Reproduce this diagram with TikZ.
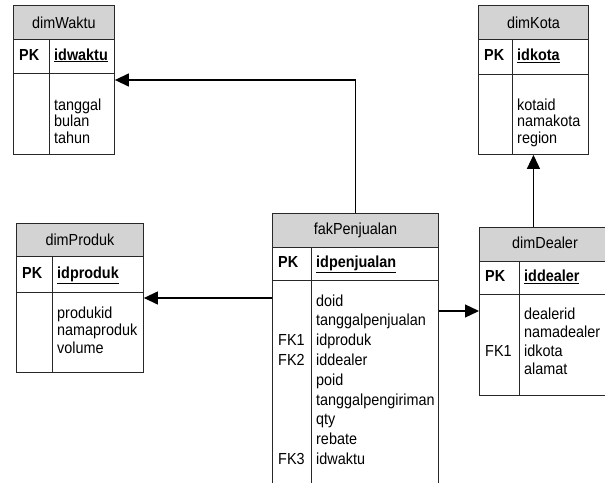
\documentclass[tikz,border=0pt]{standalone}
\usepackage{fontspec}
\setmainfont[FakeStretch=0.9]{Liberation Sans}
\usetikzlibrary{arrows.meta}
\definecolor{hdrgray}{RGB}{211,211,211}
\definecolor{bordercol}{RGB}{40,40,40}
\begin{document}
\begin{tikzpicture}[x=1pt,y=-1pt,
  font=\fontsize{16}{18}\selectfont,
  cellbox/.style={draw=bordercol, line width=0.9pt, inner sep=0pt, anchor=north west},
  hdrbox/.style={cellbox, fill=hdrgray},
  txt/.style={anchor=west, inner sep=0pt, text height=11.5pt, text depth=3.3pt},
  divline/.style={draw=bordercol, line width=0.9pt},
  arr/.style={draw=black, line width=1.3pt, -{Triangle[length=14pt,width=13pt]}}]
\useasboundingbox (0,0) rectangle (605,482);
\clip (0,0) rectangle (605,482);

% ---------- dimWaktu ----------
\node[hdrbox, minimum width=101pt, minimum height=34pt] (wh) at (13,5) {dimWaktu};
\node[cellbox, minimum width=101pt, minimum height=34pt] (wp) at (13,39) {};
\node[cellbox, minimum width=101pt, minimum height=81pt] (wb) at (13,73) {};
\draw[divline] (49,39) -- (49,154);
\node[txt] (wpk) at (19,56) {\textbf{PK}};
\node[txt] (wkey) at (54,56) {\textbf{\underline{idwaktu}}};
\foreach \t [count=\i from 0] in {tanggal,bulan,tahun}
  \node[txt] (w\i) at (54,{106+\i*16.5}) {\t};

% ---------- dimKota ----------
\node[hdrbox, minimum width=110pt, minimum height=34pt] (kh) at (478,5) {dimKota};
\node[cellbox, minimum width=110pt, minimum height=35pt] (kp) at (478,39) {};
\node[cellbox, minimum width=110pt, minimum height=80pt] (kb) at (478,74) {};
\draw[divline] (512,39) -- (512,154);
\node[txt] (kpk) at (484,56.5) {\textbf{PK}};
\node[txt] (kkey) at (517,56.5) {\textbf{\underline{idkota}}};
\foreach \t [count=\i from 0] in {kotaid,namakota,region}
  \node[txt] (k\i) at (517,{106+\i*16.5}) {\t};

% ---------- dimProduk ----------
\node[hdrbox, minimum width=127pt, minimum height=33pt] (ph) at (16,223) {dimProduk};
\node[cellbox, minimum width=127pt, minimum height=36pt] (pp) at (16,256) {};
\node[cellbox, minimum width=127pt, minimum height=80pt] (pb) at (16,292) {};
\draw[divline] (52,256) -- (52,372);
\node[txt] (ppk) at (22,274) {\textbf{PK}};
\node[txt] (pkey) at (57,274) {\textbf{\underline{idproduk}}};
\foreach \t [count=\i from 0] in {produkid,namaproduk,volume}
  \node[txt] (p\i) at (57,{314+\i*17.5}) {\t};

% ---------- fakPenjualan ----------
\node[hdrbox, minimum width=166pt, minimum height=34pt] (fh) at (272,213) {fakPenjualan};
\node[cellbox, minimum width=166pt, minimum height=33pt] (fp) at (272,247) {};
\node[cellbox, minimum width=166pt, minimum height=215pt] (fb) at (272,280) {};
\draw[divline] (311,247) -- (311,495);
\node[txt] (fpk) at (278,263.5) {\textbf{PK}};
\node[txt] (fkey) at (316,263.5) {\textbf{\underline{idpenjualan}}};
\foreach \fk/\t [count=\i from 0] in {/doid,/tanggalpenjualan,FK1/idproduk,FK2/iddealer,/poid,/tanggalpengiriman,/qty,/rebate,FK3/idwaktu}{
  \node[txt] (f\i) at (316,{302+\i*19.8}) {\t};
  \node[txt] (ff\i) at (278,{302+\i*19.8}) {\fk};
}

% ---------- dimDealer ----------
\node[hdrbox, minimum width=140pt, minimum height=34pt] (dh) at (479,227) {};
\node[txt, anchor=center] (dht) at (545,244) {dimDealer};
\node[cellbox, minimum width=140pt, minimum height=33pt] (dp) at (479,261) {};
\node[cellbox, minimum width=140pt, minimum height=101pt] (db) at (479,294) {};
\draw[divline] (519,261) -- (519,395);
\node[txt] (dpk) at (485,277.5) {\textbf{PK}};
\node[txt] (dkey) at (524,277.5) {\textbf{\underline{iddealer}}};
\foreach \fk/\t [count=\i from 0] in {/dealerid,/namadealer,FK1/idkota,/alamat}{
  \node[txt] (d\i) at (524,{315+\i*18.5}) {\t};
  \node[txt] (dd\i) at (485,{315+\i*18.5}) {\fk};
}

% ---------- connectors ----------
\coordinate (cw) at ([yshift=-7pt]wb.north east);
\coordinate (cp) at ([yshift=-6pt]pb.north east);
\coordinate (cd) at ([yshift=-17pt]db.north west);
\draw[arr] (fh.north) |- (cw);
\draw[arr] (cp -| fb.west) -- (cp);
\draw[arr] (cd -| fb.east) -- (cd);
\draw[arr] (kb.south |- dh.north) -- (kb.south);
\end{tikzpicture}
\end{document}
